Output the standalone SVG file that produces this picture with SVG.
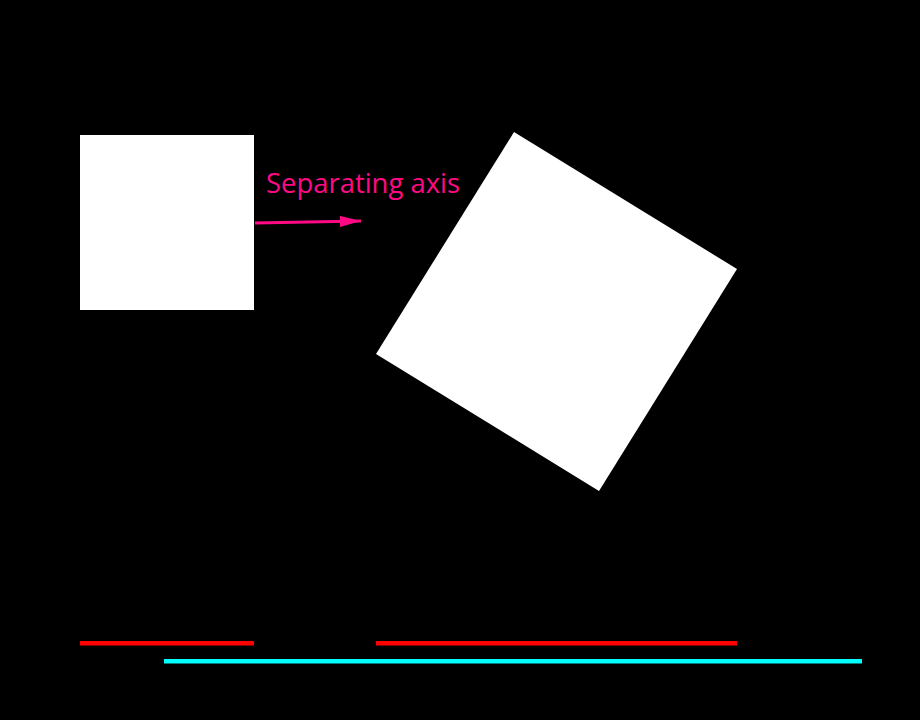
<svg xmlns="http://www.w3.org/2000/svg" width="920" height="720" viewBox="0 0 920 720">
<defs>
<style>
.shape{fill:#ffffff}
.proj{stroke-width:4.6;fill:none}
.label{font-family:"Open Sans","Liberation Sans",sans-serif;font-size:27px;fill:#ff0a84}
</style>
<marker id="ah" viewBox="0 0 10 10" refX="10" refY="5" markerWidth="21" markerHeight="11" markerUnits="userSpaceOnUse" orient="auto" preserveAspectRatio="none">
<path d="M0,0 L10,5 L0,10 z" fill="#ff0a84"/>
</marker>
</defs>
<rect width="920" height="720" fill="#000"/>
<g id="square-a"><rect class="shape" x="80" y="135" width="174" height="175"/></g>
<g id="square-b"><polygon class="shape" points="514,132 737,269 599,491 376,354"/></g>
<g id="label"><text class="label" x="266" y="193" textLength="194" lengthAdjust="spacingAndGlyphs">Separating axis</text></g>
<g id="connectors">
<line x1="255" y1="223" x2="361" y2="221" stroke="#ff0a84" stroke-width="3" marker-end="url(#ah)"/>
<line class="proj" x1="80" y1="643.3" x2="254" y2="643.3" stroke="#ff0000"/>
<line class="proj" x1="376" y1="643.3" x2="737" y2="643.3" stroke="#ff0000"/>
<line class="proj" x1="164" y1="661.3" x2="862" y2="661.3" stroke="#00ffff"/>
</g>
</svg>
